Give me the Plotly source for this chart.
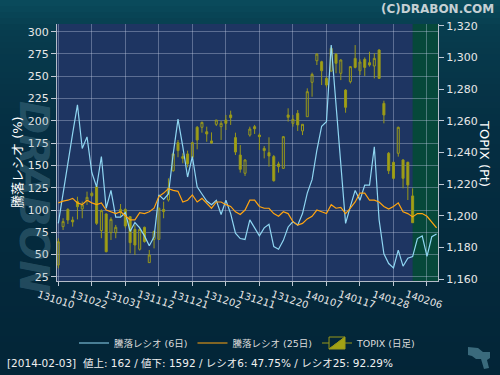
import plotly.graph_objects as go

# ---------------- data ----------------
tick_idx = [0, 7, 14, 21, 28, 35, 42, 49, 56, 63, 70, 77]
tick_labels = ["131010", "131022", "131031", "131112", "131121", "131202",
               "131211", "131220", "140107", "140117", "140128", "140206"]

ratio6 = [85, 120, 152, 186, 218, 169, 182, 142, 126, 160, 102, 122,
          92, 92, 97, 76, 86, 80, 71, 60, 70,
          117, 112, 118, 163, 202, 171, 137, 160, 126, 118,
          110, 106, 111, 95, 111, 96, 74, 68, 67,
          89, 80, 71, 80, 84, 59, 56, 66, 81, 87,
          83, 96, 119, 134, 167, 194, 199, 285, 220, 150,
          85, 104, 122, 111, 128, 128, 171, 89, 51, 40,
          35, 55, 37, 46, 47.75, 68, 71, 48, 70, 73]

ratio25 = [108, 110, 111, 113, 108, 106, 111, 108, 106, 108,
           100, 98, 96, 98, 93, 89, 89, 97, 96, 98,
           102, 115, 119, 124, 122, 121, 109, 111, 117, 109,
           113, 108, 102, 109, 109, 106, 104, 98, 95, 100,
           111, 111, 104, 102, 102, 96, 93, 98, 96, 87,
           83, 85, 90, 93, 100, 98, 96, 106, 102, 103,
           96, 102, 109, 119, 119, 111, 111, 109, 104, 101,
           104, 108, 98, 96, 92.29, 96, 96, 93, 87, 80]

topix_open = [1169.0, 1193.2, 1204.1, 1197.4, 1209.0, 1204.4, 1209.6, 1212.8, 1218.4, 1190.7,
              1201.2, 1189.4, 1189.4, 1202.0, 1204.1, 1199.5, 1191.5, 1178.9, 1192.8, 1170.5,
              1185.2, 1185.2, 1204.1, 1210.0, 1228.5, 1246.2, 1237.4, 1239.1, 1237.0, 1255.9,
              1255.9, 1253.1, 1247.3, 1257.8, 1256.3, 1260.5, 1263.7, 1249.4, 1238.4, 1226.9,
              1251.0, 1256.3, 1251.0, 1242.6, 1239.9, 1237.4, 1232.8, 1230.0, 1263.7, 1258.4,
              1264.7, 1253.6, 1262.6, 1284.3, 1297.9, 1297.3, 1286.8, 1291.4, 1302.1, 1290.0,
              1279.4, 1284.7, 1299.4, 1291.6, 1298.8, 1296.7, 1294.6, 1304.7, 1271.0, 1239.5,
              1233.8, 1239.5, 1235.3, 1233.8, 1212.6]
topix_high = [1185.9, 1198.5, 1204.8, 1199.5, 1212.1, 1209.0, 1215.3, 1215.3, 1219.5, 1204.1,
              1201.6, 1199.1, 1194.3, 1207.5, 1204.8, 1199.9, 1194.3, 1193.2, 1193.2, 1178.5,
              1190.7, 1205.4, 1209.0, 1223.7, 1239.9, 1247.9, 1239.5, 1241.2, 1246.8, 1256.7,
              1259.5, 1256.3, 1252.7, 1260.5, 1259.9, 1263.7, 1266.4, 1252.5, 1244.7, 1235.7,
              1256.3, 1257.4, 1252.1, 1244.1, 1249.6, 1238.4, 1234.2, 1250.4, 1267.9, 1263.7,
              1266.8, 1258.0, 1280.5, 1290.4, 1302.6, 1297.9, 1287.9, 1306.8, 1302.6, 1298.8,
              1279.9, 1294.6, 1307.8, 1298.8, 1300.0, 1303.6, 1302.6, 1305.1, 1272.7, 1240.3,
              1234.2, 1256.3, 1235.7, 1234.2, 1217.4]
topix_low = [1166.9, 1191.1, 1194.9, 1193.2, 1197.8, 1198.5, 1206.9, 1212.1, 1194.3, 1185.9,
             1177.0, 1184.8, 1185.9, 1199.5, 1192.2, 1176.4, 1175.3, 1178.1, 1183.1, 1170.5,
             1179.5, 1184.8, 1198.5, 1209.0, 1227.9, 1237.0, 1233.2, 1230.6, 1236.3, 1242.0,
             1252.5, 1246.8, 1245.4, 1256.7, 1247.9, 1254.2, 1257.4, 1238.4, 1227.3, 1225.2,
             1250.0, 1251.7, 1241.6, 1236.3, 1231.1, 1221.6, 1227.3, 1229.6, 1259.5, 1256.3,
             1253.6, 1251.0, 1262.6, 1275.2, 1295.2, 1282.6, 1281.1, 1291.0, 1290.0, 1285.7,
             1265.1, 1283.6, 1293.1, 1288.9, 1288.3, 1294.2, 1286.8, 1286.4, 1258.4, 1226.4,
             1223.1, 1237.4, 1217.4, 1210.0, 1195.7]
topix_close = [1183.7, 1196.4, 1197.4, 1196.2, 1205.8, 1206.9, 1211.7, 1214.2, 1195.3, 1203.3,
               1177.4, 1197.8, 1192.8, 1204.1, 1193.6, 1183.1, 1181.6, 1191.5, 1183.8, 1175.3,
               1190.1, 1204.8, 1202.7, 1217.4, 1239.1, 1241.2, 1236.3, 1232.8, 1246.2, 1247.9,
               1259.0, 1251.7, 1246.0, 1260.5, 1258.4, 1258.4, 1262.0, 1240.3, 1229.4, 1235.3,
               1254.8, 1255.0, 1250.0, 1241.2, 1237.8, 1222.2, 1231.1, 1250.0, 1262.2, 1260.9,
               1257.4, 1257.8, 1278.4, 1289.3, 1302.1, 1291.6, 1282.6, 1305.7, 1296.3, 1298.4,
               1268.5, 1294.2, 1293.7, 1297.1, 1293.7, 1295.2, 1299.4, 1286.8, 1263.7, 1228.5,
               1223.7, 1255.9, 1223.7, 1219.5, 1195.7]

ratio_ticks = [25, 50, 75, 100, 125, 150, 175, 200, 225, 250, 275, 300]
topix_ticks = [1160, 1180, 1200, 1220, 1240, 1260, 1280, 1300, 1320]
last_index = 74  # 2014-02-03
info_text = "[2014-02-03]  値上: 162 / 値下: 1592 / レシオ6: 47.75% / レシオ25: 92.29%"

# ---------------- layout helpers ----------------
W, H = 500, 375
ML, MR, MT, MB = 57, 62, 24, 94
PW, PH = W - ML - MR, H - MT - MB


def px_x(px):
    return (px - ML) / PW


def px_y(py):
    return (H - MB - py) / PH


FONT = "DejaVu Sans, Noto Sans CJK JP, sans-serif"
OLIVE_LINE = "#98981a"
OLIVE_FILL = "#a2a214"

x_lines = list(range(len(ratio6)))
x_candles = list(range(len(topix_close)))

fig = go.Figure()

fig.add_trace(go.Candlestick(
    x=x_candles, open=topix_open, high=topix_high, low=topix_low, close=topix_close,
    name="TOPIX (日足)", yaxis="y", legendrank=3,
    increasing=dict(line=dict(color=OLIVE_LINE, width=1), fillcolor="rgba(0,0,0,0)"),
    decreasing=dict(line=dict(color=OLIVE_LINE, width=1), fillcolor=OLIVE_FILL),
    whiskerwidth=0, hoverinfo="skip",
))
fig.add_trace(go.Scatter(
    x=x_lines, y=ratio6, mode="lines", name="騰落レシオ (6日)", yaxis="y2",
    line=dict(color="#8fd6f2", width=1.2), legendrank=1,
))
fig.add_trace(go.Scatter(
    x=x_lines, y=ratio25, mode="lines", name="騰落レシオ (25日)", yaxis="y2",
    line=dict(color="#ffa410", width=1.2), legendrank=2,
))

# background gradient (paper)
shapes = []
stops = [(0, (10, 76, 92)), (30, (7, 60, 78)), (130, (5, 46, 66)), (375, (3, 37, 55))]


def grad_color(py):
    for (y0, c0), (y1, c1) in zip(stops[:-1], stops[1:]):
        if y0 <= py <= y1:
            t = (py - y0) / (y1 - y0)
            return "rgb(%d,%d,%d)" % tuple(round(a + (b - a) * t) for a, b in zip(c0, c1))
    return "rgb(%d,%d,%d)" % stops[-1][1]


step = 6
for k in range(0, H, step):
    shapes.append(dict(type="rect", xref="paper", yref="paper", layer="below",
                       x0=px_x(0), x1=px_x(W), y0=px_y(k + step), y1=px_y(k),
                       fillcolor=grad_color(k + step / 2), line=dict(width=0)))
# plot area
shapes.append(dict(type="rect", xref="paper", yref="paper", layer="below",
                   x0=0, x1=1, y0=0, y1=1, fillcolor="#1e3562", line=dict(width=0)))
# green region after last data date
shapes.append(dict(type="rect", xref="x", yref="paper", layer="below",
                   x0=last_index, x1=80, y0=0, y1=1, fillcolor="#06483a", line=dict(width=0)))
# small logo at bottom right
logo = [(468, 347), (478, 348), (483, 352), (490, 352), (490, 358), (487, 360),
        (489, 368), (484, 369), (481, 359), (476, 359), (472, 356), (468, 355)]
path = "M " + " L ".join("%.4f,%.4f" % (px_x(a), px_y(b)) for a, b in logo) + " Z"
shapes.append(dict(type="path", xref="paper", yref="paper", path=path,
                   fillcolor="#3a6a7c", line=dict(width=0), layer="above"))

annotations = []
# watermark (drawn first so the tick labels stay readable)
annotations.append(dict(x=px_x(34), y=px_y(197), xref="paper", yref="paper",
                        xanchor="center", yanchor="middle",
                        text="<b><i>DRABON</i></b>", showarrow=False, textangle=90,
                        font=dict(family="DejaVu Sans", size=40, color="rgba(110,160,180,0.30)")))
# x tick labels (rotated, centred on ticks)
for i, lab in zip(tick_idx, tick_labels):
    annotations.append(dict(x=i, xshift=-2.5, xref="x", y=px_y(299), yref="paper",
                            text=lab, showarrow=False, textangle=18,
                            xanchor="center", yanchor="middle",
                            font=dict(family=FONT, size=10, color="#e6e6e6")))
# axis titles
annotations.append(dict(x=px_x(17), y=px_y(162), xref="paper", yref="paper",
                        xanchor="center", yanchor="middle",
                        text="騰落レシオ (%)", showarrow=False, textangle=-90,
                        font=dict(family=FONT, size=13, color="#ffffff")))
annotations.append(dict(x=px_x(485), y=px_y(153), xref="paper", yref="paper",
                        xanchor="center", yanchor="middle",
                        text="TOPIX (Pt)", showarrow=False, textangle=90,
                        font=dict(family=FONT, size=13, color="#ffffff")))
# header
annotations.append(dict(x=px_x(496), y=px_y(9), xref="paper", yref="paper",
                        text="<b>(C)DRABON.COM</b>", showarrow=False,
                        xanchor="right", yanchor="middle",
                        font=dict(family="DejaVu Sans", size=12, color="#c6d0d4")))
# info line
annotations.append(dict(x=px_x(5), y=px_y(363), xref="paper", yref="paper",
                        text=info_text, showarrow=False, xanchor="left", yanchor="middle",
                        font=dict(family=FONT, size=10.5, color="#f0f0f0")))

GRID = "rgba(195,205,230,0.38)"
fig.update_layout(
    width=W, height=H,
    margin=dict(l=ML, r=MR, t=MT, b=MB, pad=0, autoexpand=False),
    paper_bgcolor="#04293b", plot_bgcolor="rgba(0,0,0,0)",
    font=dict(family=FONT, size=11, color="#e8e8e8"),
    showlegend=True, boxgap=0.4,
    legend=dict(orientation="h", x=0.5, xanchor="center", y=px_y(343), yanchor="middle",
                font=dict(family=FONT, size=9.5, color="#dcdcdc"),
                bgcolor="rgba(0,0,0,0)", itemwidth=30, traceorder="normal"),
    xaxis=dict(range=[-1.3 / 4.788, 79.3], tickvals=tick_idx,
               ticktext=[""] * len(tick_idx), showgrid=True, gridcolor=GRID, gridwidth=1,
               ticks="outside", ticklen=4, tickcolor="#c0c8d4",
               showline=True, linecolor="#b4bcc8", linewidth=1, automargin=False,
               zeroline=False, rangeslider=dict(visible=False), fixedrange=True),
    yaxis=dict(side="right", range=[1158.9, 1321.1], tickvals=topix_ticks,
               tickformat=",d", showgrid=False, zeroline=False, automargin=False,
               ticks="outside", ticklen=5, tickcolor="#c0c8d4",
               showline=True, linecolor="#b4bcc8", linewidth=1,
               tickfont=dict(family=FONT, size=11, color="#e8e8e8")),
    yaxis2=dict(side="left", overlaying="y", range=[20.4, 308.6], tickvals=ratio_ticks,
                showgrid=True, gridcolor=GRID, gridwidth=1, zeroline=False, automargin=False,
                ticks="outside", ticklen=5, tickcolor="#c0c8d4",
                showline=True, linecolor="#b4bcc8", linewidth=1,
                tickfont=dict(family=FONT, size=11, color="#e8e8e8")),
    shapes=shapes, annotations=annotations,
)

fig.write_html(
    "out.html",
    config={"displayModeBar": False, "staticPlot": True},
    post_script="document.body.style.margin='0';document.body.style.padding='0';"
                "document.body.style.overflow='hidden';",
)
